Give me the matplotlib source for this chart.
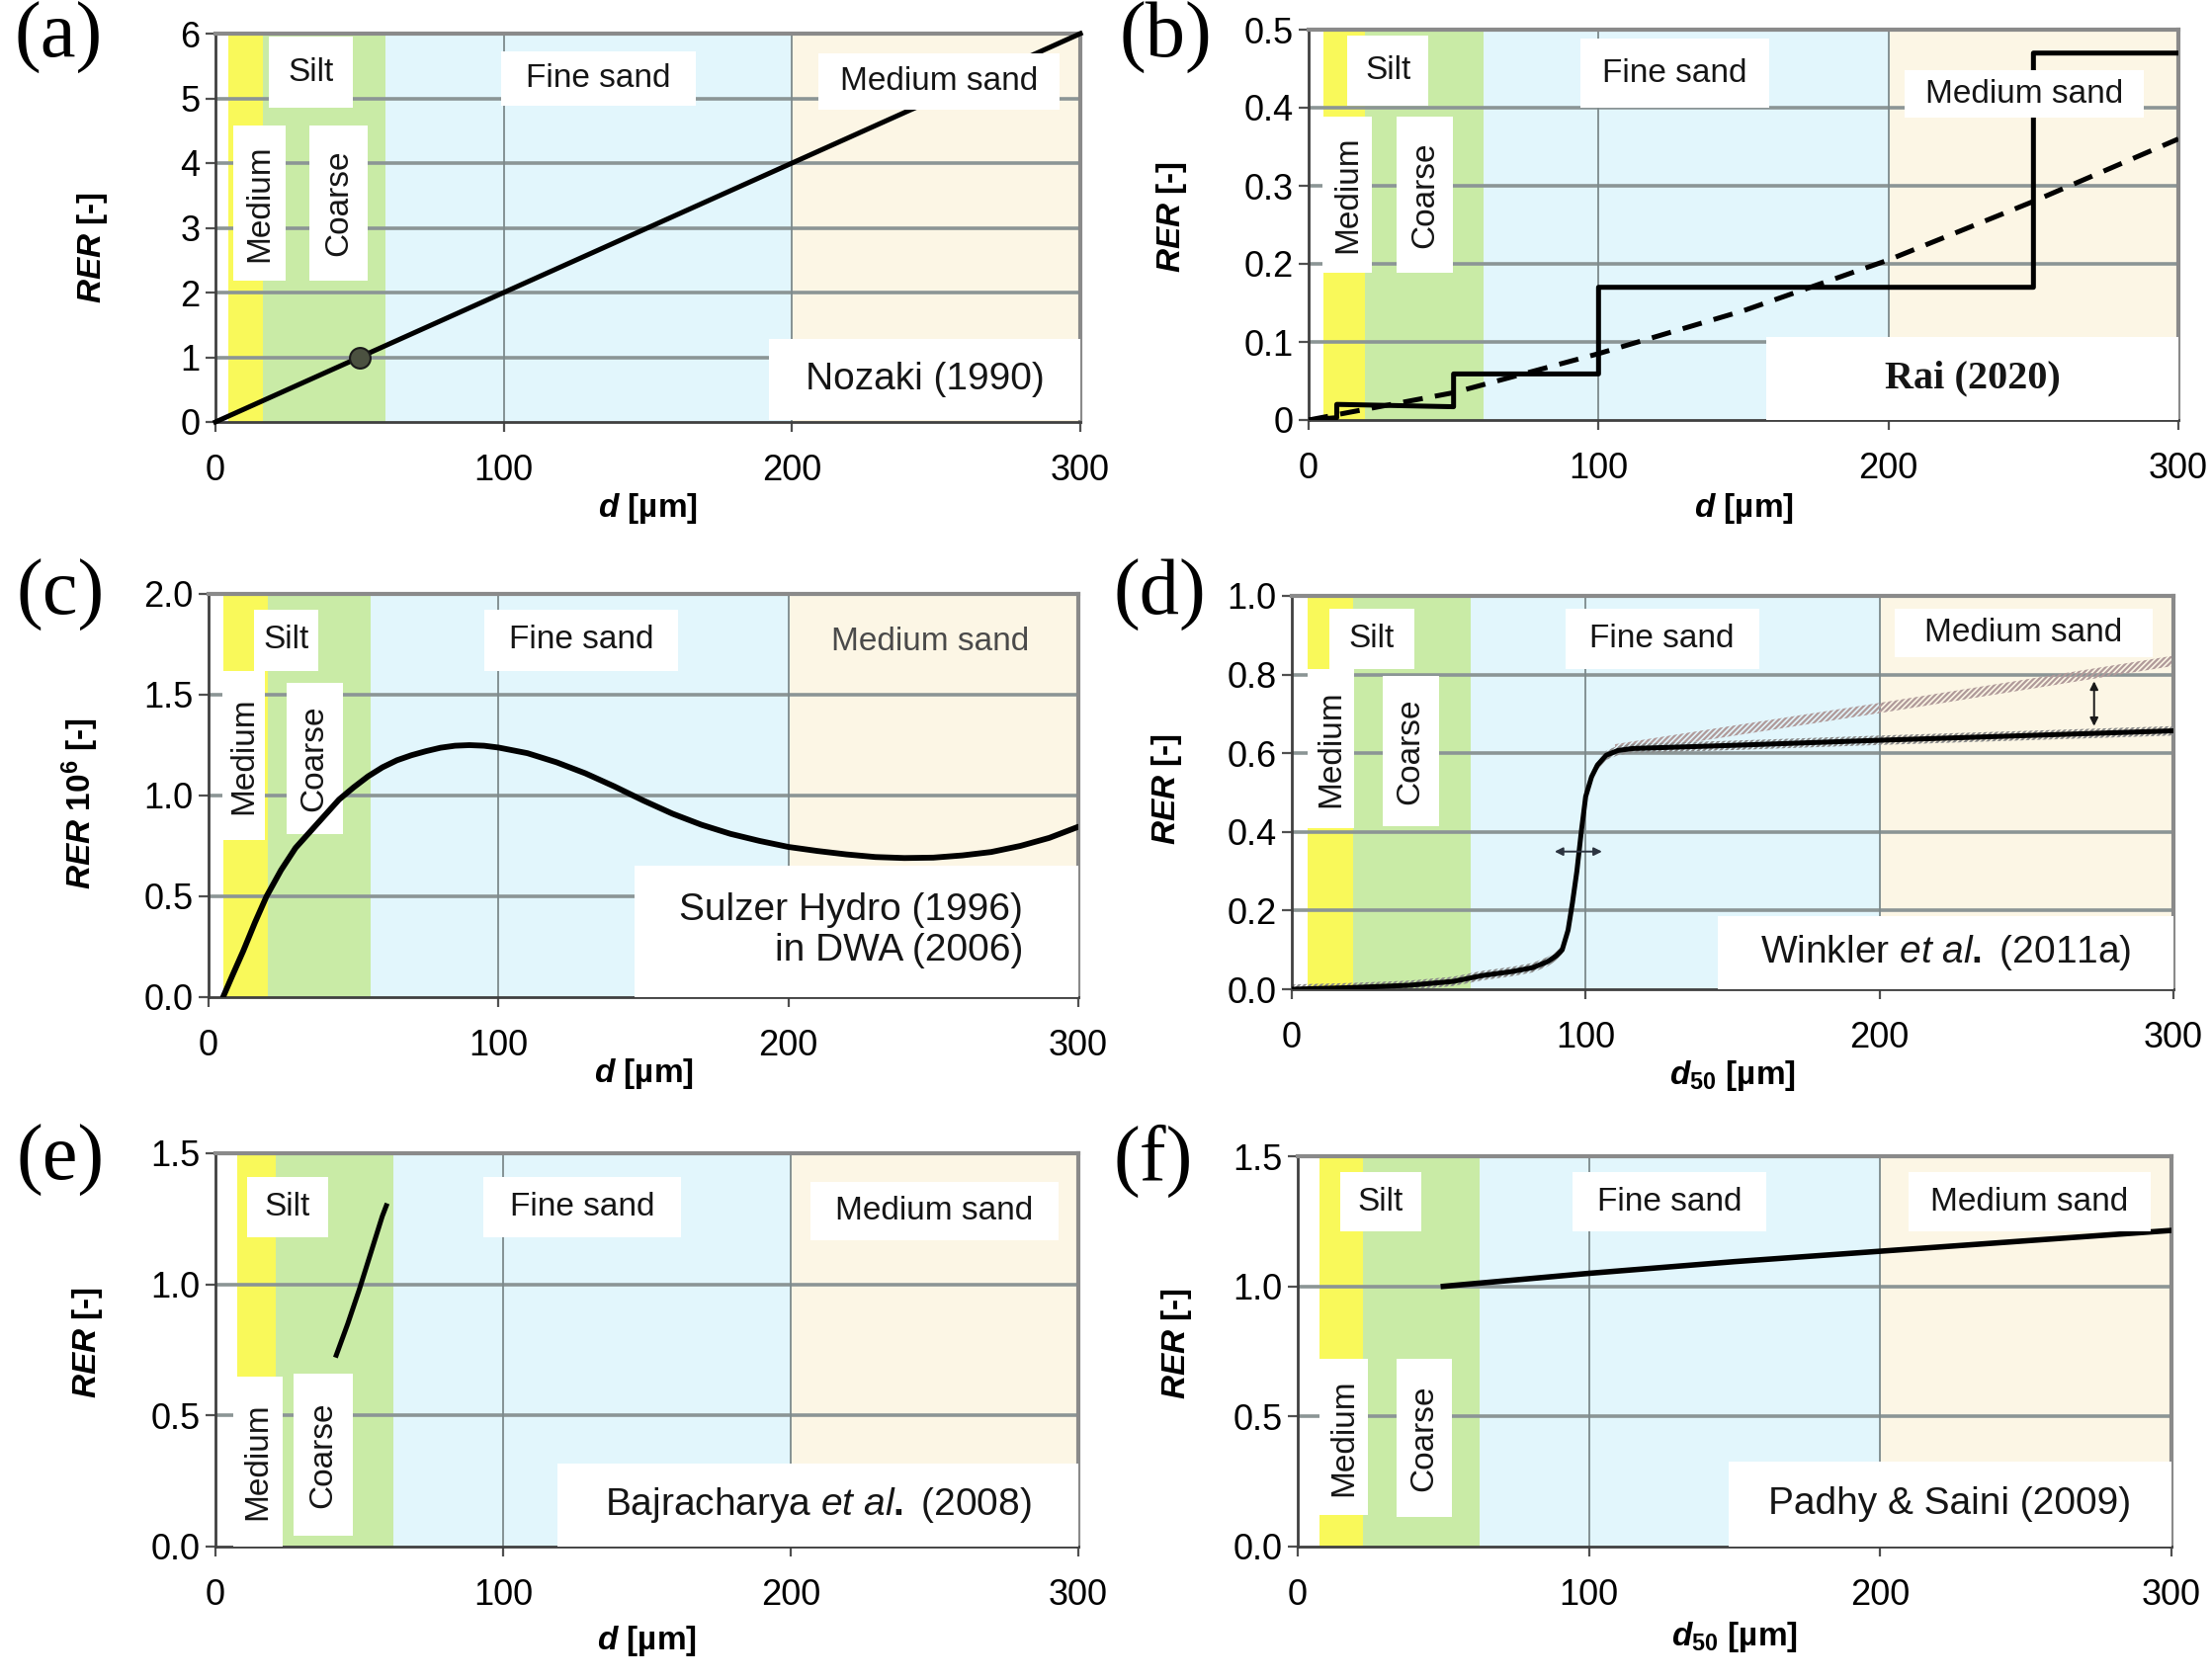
import matplotlib
matplotlib.use('Agg')
import matplotlib.pyplot as plt
from matplotlib.patches import Rectangle


plt.rcParams['font.family'] = ['Liberation Sans', 'DejaVu Sans']
plt.rcParams['mathtext.fontset'] = 'custom'
plt.rcParams['mathtext.rm'] = 'Liberation Sans:bold'
plt.rcParams['mathtext.bf'] = 'Liberation Sans:bold'
plt.rcParams['mathtext.it'] = 'Liberation Sans:italic'
plt.rcParams['mathtext.bfit'] = 'Liberation Sans:italic:bold'
plt.rcParams['hatch.linewidth'] = 1.6

# Size classes shading (left edge of medium silt, coarse silt, fine sand)
zone_edges = {
    'a': [4.5, 16.5, 59, 200],
    'b': [5, 19.5, 60.5, 200],
    'c': [5, 20.5, 56, 200],
    'd': [5.5, 21, 61, 200],
    'e': [7.4, 21, 62, 200],
    'f': [7.3, 22.3, 62.5, 200],
}
zone_colors = ['#f9f95a', '#c9eba6', '#e2f6fc', '#fcf6e5']

# (a) Nozaki (1990)
a_d = [0, 50, 100, 200, 300]
a_rer = [0, 1, 2, 4, 6]
a_ref_d = [50]
a_ref_rer = [1]

# (b) Rai (2020): step curve and dashed fit
b_step_d = [0, 9.7, 9.7, 50, 50, 100, 100, 250, 250, 250, 300]
b_step_rer = [0, 0.003, 0.02, 0.017, 0.059, 0.059, 0.17, 0.17, 0.38, 0.47, 0.47]
b_fit_d = [0, 50, 100, 150, 200, 250, 300]
b_fit_rer = [0, 0.035, 0.085, 0.14, 0.205, 0.28, 0.36]

# (c) Sulzer Hydro (1996) in DWA (2006)
c_d = [5, 8, 12, 16, 20, 25, 30, 35, 40, 45, 50, 55, 60, 65, 70, 75, 80, 85,
       90, 95, 100, 110, 120, 130, 140, 150, 160, 170, 180, 190, 200, 210,
       220, 230, 240, 250, 260, 270, 280, 290, 300]
c_rer = [0, 0.1, 0.23, 0.37, 0.5, 0.63, 0.74, 0.82, 0.9, 0.98, 1.04, 1.095,
         1.14, 1.175, 1.2, 1.22, 1.237, 1.247, 1.25, 1.247, 1.238, 1.21, 1.165,
         1.11, 1.045, 0.975, 0.91, 0.855, 0.81, 0.775, 0.745, 0.725, 0.708,
         0.695, 0.69, 0.692, 0.703, 0.72, 0.75, 0.79, 0.845]

# (d) Winkler et al. (2011a)
d_d = [0, 20, 40, 55, 65, 75, 82, 87, 90, 92, 94, 95.5, 97, 98.5, 100, 102,
       104, 107, 111, 116, 150, 200, 250, 300]
d_rer = [0.0, 0.004, 0.01, 0.02, 0.035, 0.045, 0.055, 0.07, 0.085, 0.1, 0.15,
         0.22, 0.3, 0.4, 0.49, 0.54, 0.57, 0.595, 0.607, 0.612, 0.62, 0.633,
         0.645, 0.657]
d_up_d = [110, 150, 200, 250, 300]
d_up_rer = [0.61, 0.657, 0.715, 0.775, 0.835]

# (e) Bajracharya et al. (2008)
e_d = [42, 46, 50, 54, 58, 59.4]
e_rer = [0.73, 0.85, 0.98, 1.12, 1.26, 1.3]

# (f) Padhy & Saini (2009)
f_d = [50, 100, 150, 200, 250, 300]
f_rer = [1.0, 1.05, 1.095, 1.135, 1.175, 1.215]

x_ticks = [0, 100, 200, 300]
y_ticks = {
    'a': [0, 1, 2, 3, 4, 5, 6],
    'b': [0, 0.1, 0.2, 0.3, 0.4, 0.5],
    'c': [0, 0.5, 1.0, 1.5, 2.0],
    'd': [0, 0.2, 0.4, 0.6, 0.8, 1.0],
    'e': [0, 0.5, 1.0, 1.5],
    'f': [0, 0.5, 1.0, 1.5],
}
y_ticklabels = {
    'a': ['0', '1', '2', '3', '4', '5', '6'],
    'b': ['0', '0.1', '0.2', '0.3', '0.4', '0.5'],
    'c': ['0.0', '0.5', '1.0', '1.5', '2.0'],
    'd': ['0.0', '0.2', '0.4', '0.6', '0.8', '1.0'],
    'e': ['0.0', '0.5', '1.0', '1.5'],
    'f': ['0.0', '0.5', '1.0', '1.5'],
}

ylab = r'$\mathbfit{RER}$ [-]'
xlab_d = r'$\mathbfit{d}$ [µm]'
xlab_d50 = r'$\mathbfit{d}_{\mathbf{50}}$ [µm]'

W, H = 2237, 1700
# axes boxes in pixels: left, right, top, bottom
ax_px = {
    'a': (218, 1093, 34, 427),
    'b': (1324, 2204, 30, 425),
    'c': (211, 1091, 601, 1009),
    'd': (1307, 2199, 603, 1001),
    'e': (218, 1091, 1167, 1565),
    'f': (1313, 2197, 1170, 1565),
}
# y label: distance left of spine (px), height as axes fraction
ylab_pos = {
    'a': (125, 0.45), 'b': (139, 0.52), 'c': (130, 0.48),
    'd': (126, 0.51), 'e': (130, 0.52), 'f': (123, 0.52),
}
# x label: distance below axes (px)
xlab_pos = {'a': 87, 'b': 90, 'c': 78, 'd': 87, 'e': 96, 'f': 92}
panel_px = {
    'a': (14, 2), 'b': (1132, 2), 'c': (17, 566),
    'd': (1127, 566), 'e': (17, 1138), 'f': (1127, 1138),
}


def label_box(ax, x0, x1, y0, y1, text, rot=0, color='#151515',
              size=24, **kw):
    """White box with centred text, drawn above the curves."""
    ax.add_patch(Rectangle((x0, y0), x1 - x0, y1 - y0, facecolor='white',
                           edgecolor='none', zorder=4))
    ax.text((x0 + x1) / 2, (y0 + y1) / 2, text, rotation=rot, ha='center',
            va='center', color=color, fontsize=size, zorder=5, **kw)


def setup_axes(fig, key, xlabel):
    l, r, t, b = ax_px[key]
    ax = fig.add_axes([l / W, 1 - b / H, (r - l) / W, (b - t) / H])
    yt = y_ticks[key]
    ax.set_xlim(0, 300)
    ax.set_ylim(yt[0], yt[-1])
    bounds = zone_edges[key] + [300]
    for i, col in enumerate(zone_colors):
        ax.axvspan(bounds[i], bounds[i + 1], color=col, lw=0, zorder=0)
    for y in yt[1:-1]:
        ax.axhline(y, color='#8b9595', lw=2.6, zorder=1)
    for x in x_ticks[1:-1]:
        ax.axvline(x, color='#7d8a8c', lw=1.3, zorder=1)
    ax.set_xticks(x_ticks)
    ax.set_yticks(yt)
    ax.set_yticklabels(y_ticklabels[key])
    ax.tick_params(axis='both', labelsize=26, length=7, width=1.6,
                   color='#505050', direction='out')
    ax.tick_params(axis='x', pad=16)
    ax.tick_params(axis='y', pad=4)
    for s in ['left', 'bottom']:
        ax.spines[s].set_color('#404040')
        ax.spines[s].set_linewidth(2)
    for s in ['top', 'right']:
        ax.spines[s].set_color('#8a8a8a')
        ax.spines[s].set_linewidth(3)
    ax.set_xlabel(xlabel, fontsize=24, fontweight='bold', va='center')
    ax.xaxis.set_label_coords(0.5, -xlab_pos[key] / (b - t))
    ax.set_ylabel(ylab if key != 'c' else
                  r'$\mathbfit{RER}$ 10$^{\mathbf{6}}$ [-]',
                  fontsize=24, fontweight='bold', va='center')
    dx, fy = ylab_pos[key]
    ax.yaxis.set_label_coords(-dx / (r - l), fy)
    px, py = panel_px[key]
    fig.text(px / W, 1 - py / H, f'({key})', fontsize=58,
             family='Liberation Serif', ha='left', va='top')
    return ax


def main():
    fig = plt.figure(figsize=(W / 100, H / 100), dpi=100)
    lw = 3.6

    # (a)
    ax = setup_axes(fig, 'a', xlab_d)
    ax.plot(a_d, a_rer, color='black', lw=lw, zorder=3, clip_on=False)
    ax.plot(a_ref_d, a_ref_rer, 'o', ms=15, color='#4b5140', mec='#1a1a1a',
            mew=1.5, zorder=3)
    label_box(ax, 18.4, 47.8, 4.85, 5.95, 'Silt')
    label_box(ax, 6.1, 24.5, 2.18, 4.58, 'Medium', rot=90)
    label_box(ax, 32.6, 52.7, 2.18, 4.58, 'Coarse', rot=90)
    label_box(ax, 99, 166.5, 4.88, 5.73, 'Fine sand')
    label_box(ax, 209, 292.7, 4.83, 5.7, 'Medium sand')
    label_box(ax, 192, 300, 0.03, 1.28, 'Nozaki (1990)', size=28)

    # (b)
    ax = setup_axes(fig, 'b', xlab_d)
    ax.plot(b_step_d, b_step_rer, color='black', lw=lw, zorder=3)
    ax.plot(b_fit_d, b_fit_rer, color='black', lw=lw, ls=(0, (4, 2.5)),
            zorder=3)
    label_box(ax, 13.4, 41.4, 0.403, 0.493, 'Silt')
    label_box(ax, 4.9, 21.9, 0.188, 0.389, 'Medium', rot=90)
    label_box(ax, 30.4, 49.9, 0.188, 0.389, 'Coarse', rot=90)
    label_box(ax, 93.7, 159, 0.40, 0.488, 'Fine sand')
    label_box(ax, 205.6, 288, 0.387, 0.448, 'Medium sand')
    label_box(ax, 158, 300, 0.0, 0.106, 'Rai (2020)', size=29,
              family='Liberation Serif', fontweight='bold')

    # (c)
    ax = setup_axes(fig, 'c', xlab_d)
    ax.plot(c_d, c_rer, color='black', lw=lw + 0.6, zorder=6,
            solid_capstyle='round', solid_joinstyle='round')
    label_box(ax, 15.8, 37.7, 1.62, 1.92, 'Silt')
    label_box(ax, 4.9, 19.5, 0.78, 1.62, 'Medium', rot=90)
    label_box(ax, 26.8, 46.2, 0.81, 1.56, 'Coarse', rot=90)
    label_box(ax, 95, 162, 1.62, 1.92, 'Fine sand')
    ax.text(249, 1.76, 'Medium sand', ha='center', va='center',
            fontsize=24, color='#4a4a4a', zorder=5)
    ax.add_patch(Rectangle((147, 0), 153, 0.65, facecolor='white',
                           edgecolor='none', zorder=4))
    ax.text(281, 0.33, 'Sulzer Hydro (1996)\nin DWA (2006)', ha='right',
            va='center', fontsize=28, color='#151515', linespacing=1.2,
            zorder=5)

    # (d)
    ax = setup_axes(fig, 'd', xlab_d50)
    up_lo = [v - 0.013 for v in d_up_rer]
    up_hi = [v + 0.013 for v in d_up_rer]
    ax.fill_between(d_up_d, up_lo, up_hi, facecolor='none',
                    edgecolor='#b09a9a', hatch='//////', lw=0, zorder=2)
    m_lo = [v - 0.012 for v in d_rer]
    m_hi = [v + 0.012 for v in d_rer]
    ax.fill_between(d_d, m_lo, m_hi, facecolor='none', edgecolor='#8a8a8a',
                    hatch='//////', lw=0, zorder=2)
    ax.plot(d_d, d_rer, color='black', lw=lw, zorder=3,
            solid_joinstyle='round')
    ax.annotate('', xy=(88.5, 0.35), xytext=(106.5, 0.35),
                arrowprops=dict(arrowstyle='<|-|>', color='#2c3440', lw=1.4,
                                mutation_scale=12), zorder=3)
    ax.annotate('', xy=(273, 0.662), xytext=(273, 0.79),
                arrowprops=dict(arrowstyle='<|-|>', color='#1a1a1a', lw=1.4,
                                mutation_scale=12), zorder=3)
    label_box(ax, 12.7, 41.6, 0.815, 0.968, 'Silt')
    label_box(ax, 5.5, 21.2, 0.41, 0.815, 'Medium', rot=90)
    label_box(ax, 30.8, 50, 0.414, 0.797, 'Coarse', rot=90)
    label_box(ax, 93, 159, 0.815, 0.968, 'Fine sand')
    label_box(ax, 205, 292.8, 0.845, 0.968, 'Medium sand')
    label_box(ax, 145, 300, 0.0, 0.185, r'Winkler $et\ al.$ (2011a)',
              size=28)

    # (e)
    ax = setup_axes(fig, 'e', xlab_d)
    ax.plot(e_d, e_rer, color='black', lw=lw, zorder=3)
    label_box(ax, 11, 39.2, 1.18, 1.41, 'Silt')
    label_box(ax, 6.1, 23.3, 0.0, 0.65, 'Medium', rot=90)
    label_box(ax, 27, 47.8, 0.04, 0.66, 'Coarse', rot=90)
    label_box(ax, 93, 162, 1.18, 1.41, 'Fine sand')
    label_box(ax, 207, 293, 1.17, 1.39, 'Medium sand')
    label_box(ax, 119, 300, 0.0, 0.316, r'Bajracharya $et\ al.$ (2008)',
              size=28)

    # (f)
    ax = setup_axes(fig, 'f', xlab_d50)
    ax.plot(f_d, f_rer, color='black', lw=lw + 0.4, zorder=3)
    label_box(ax, 14.5, 42.4, 1.21, 1.44, 'Silt')
    label_box(ax, 7.3, 24.2, 0.12, 0.72, 'Medium', rot=90)
    label_box(ax, 34, 53, 0.115, 0.72, 'Coarse', rot=90)
    label_box(ax, 94.5, 161, 1.21, 1.44, 'Fine sand')
    label_box(ax, 209.6, 293, 1.21, 1.44, 'Medium sand')
    label_box(ax, 148, 300, 0.0, 0.326, 'Padhy & Saini (2009)', size=28)

    fig.savefig('out.png', dpi=100, facecolor='white')
    plt.close(fig)


if __name__ == '__main__':
    main()
